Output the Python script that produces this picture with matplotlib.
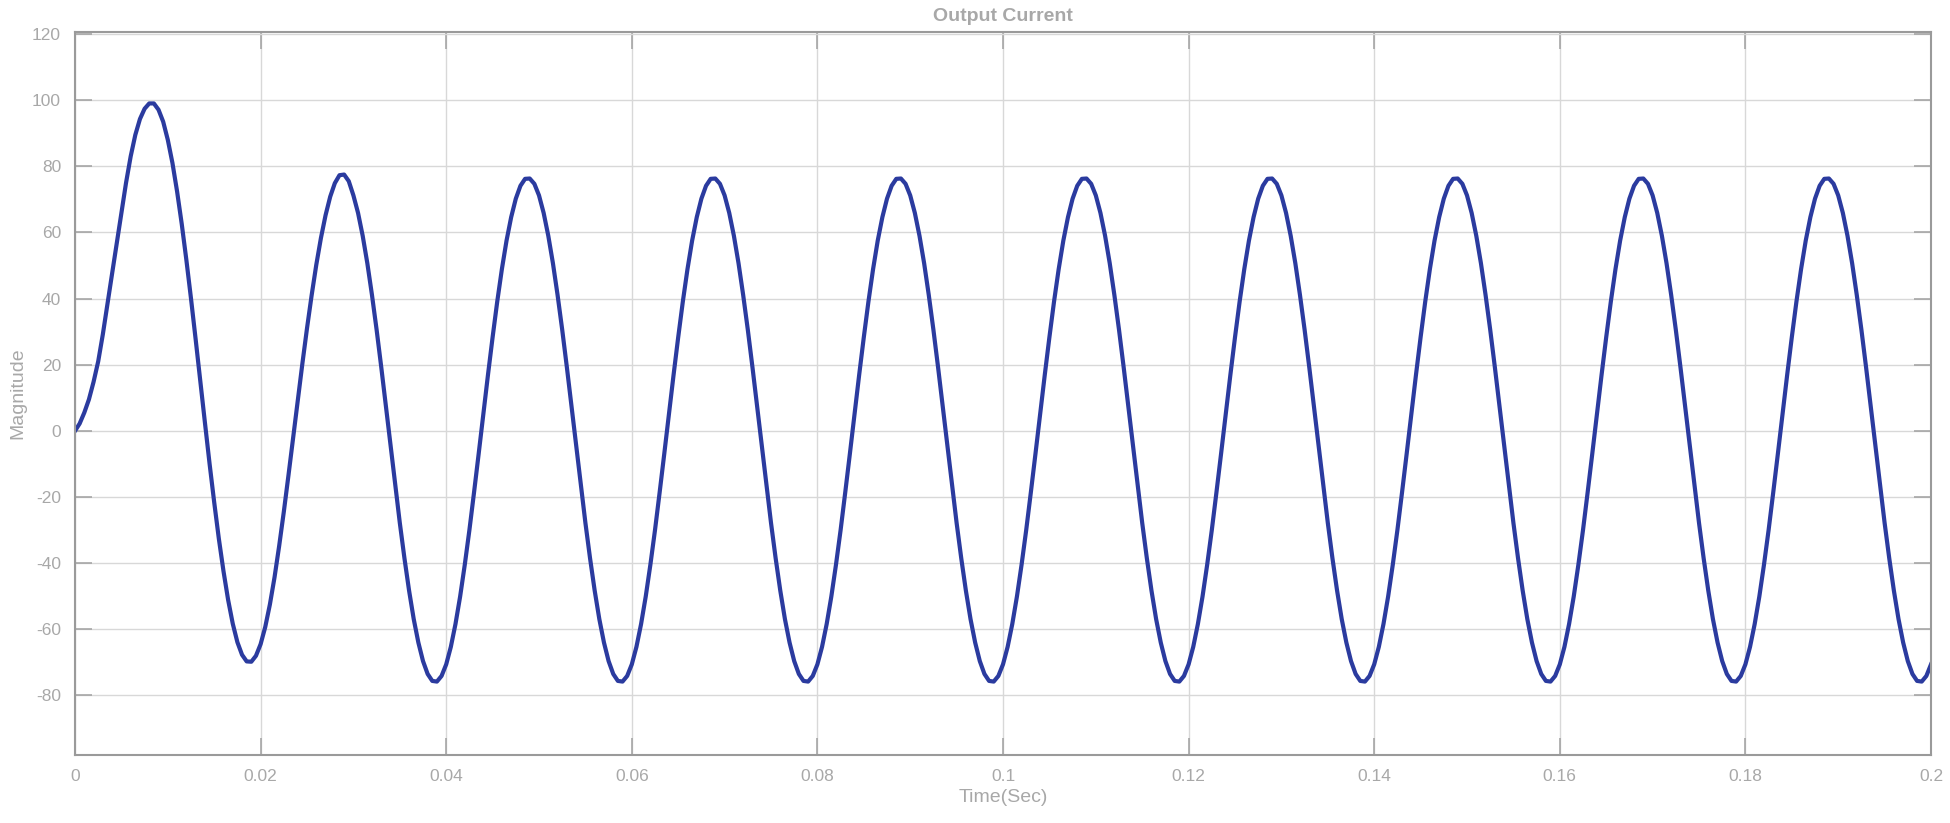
import numpy as np
import matplotlib
matplotlib.use("Agg")
import matplotlib.pyplot as plt
from matplotlib.ticker import FuncFormatter

plt.rcParams['font.family'] = ['Liberation Sans', 'DejaVu Sans']

# sample times (0.5 ms spacing, 0 .. 0.2 s)
time_s = np.linspace(0.0, 0.2, 401)

# output current values, one 20 ms cycle per line
current = [
    0.0, 2.2, 5.5, 9.5, 14.8, 21.0, 29.2, 38.3, 47.6, 56.8, 66.0, 75.0, 83.0, 89.5, 94.3, 97.4, 99.0, 99.0, 97.1, 93.5,
    88.0, 81.0, 72.4, 62.6, 51.7, 40.0, 27.7, 15.0, 2.5, -9.9, -21.6, -32.6, -42.4, -51.1, -58.3, -63.9, -67.7, -69.7, -69.8, -68.0,
    -64.5, -59.3, -52.5, -44.3, -34.8, -24.5, -13.5, -2.2, 9.2, 20.3, 31.0, 41.0, 50.2, 58.3, 65.2, 70.8, 74.9, 77.3, 77.5, 75.5,
    71.2, 65.9, 59.0, 50.7, 41.1, 30.6, 19.3, 7.5, -4.5, -16.3, -27.8, -38.5, -48.3, -56.9, -64.0, -69.6, -73.5, -75.6, -75.8, -74.1,
    -70.6, -65.3, -58.4, -50.1, -40.5, -30.0, -18.6, -6.9, 5.1, 16.9, 28.3, 39.1, 48.9, 57.5, 64.6, 70.2, 74.1, 76.2, 76.3, 74.7,
    71.2, 65.9, 59.0, 50.7, 41.1, 30.6, 19.3, 7.5, -4.5, -16.3, -27.8, -38.5, -48.3, -56.9, -64.0, -69.6, -73.5, -75.6, -75.8, -74.1,
    -70.6, -65.3, -58.4, -50.1, -40.5, -30.0, -18.6, -6.9, 5.1, 16.9, 28.3, 39.1, 48.9, 57.5, 64.6, 70.2, 74.1, 76.2, 76.3, 74.7,
    71.2, 65.9, 59.0, 50.7, 41.1, 30.6, 19.3, 7.5, -4.5, -16.3, -27.8, -38.5, -48.3, -56.9, -64.0, -69.6, -73.5, -75.6, -75.8, -74.1,
    -70.6, -65.3, -58.4, -50.1, -40.5, -30.0, -18.6, -6.9, 5.1, 16.9, 28.3, 39.1, 48.9, 57.5, 64.6, 70.2, 74.1, 76.2, 76.3, 74.7,
    71.2, 65.9, 59.0, 50.7, 41.1, 30.6, 19.3, 7.5, -4.5, -16.3, -27.8, -38.5, -48.3, -56.9, -64.0, -69.6, -73.5, -75.6, -75.8, -74.1,
    -70.6, -65.3, -58.4, -50.1, -40.5, -30.0, -18.6, -6.9, 5.1, 16.9, 28.3, 39.1, 48.9, 57.5, 64.6, 70.2, 74.1, 76.2, 76.3, 74.7,
    71.2, 65.9, 59.0, 50.7, 41.1, 30.6, 19.3, 7.5, -4.5, -16.3, -27.8, -38.5, -48.3, -56.9, -64.0, -69.6, -73.5, -75.6, -75.8, -74.1,
    -70.6, -65.3, -58.4, -50.1, -40.5, -30.0, -18.6, -6.9, 5.1, 16.9, 28.3, 39.1, 48.9, 57.5, 64.6, 70.2, 74.1, 76.2, 76.3, 74.7,
    71.2, 65.9, 59.0, 50.7, 41.1, 30.6, 19.3, 7.5, -4.5, -16.3, -27.8, -38.5, -48.3, -56.9, -64.0, -69.6, -73.5, -75.6, -75.8, -74.1,
    -70.6, -65.3, -58.4, -50.1, -40.5, -30.0, -18.6, -6.9, 5.1, 16.9, 28.3, 39.1, 48.9, 57.5, 64.6, 70.2, 74.1, 76.2, 76.3, 74.7,
    71.2, 65.9, 59.0, 50.7, 41.1, 30.6, 19.3, 7.5, -4.5, -16.3, -27.8, -38.5, -48.3, -56.9, -64.0, -69.6, -73.5, -75.6, -75.8, -74.1,
    -70.6, -65.3, -58.4, -50.1, -40.5, -30.0, -18.6, -6.9, 5.1, 16.9, 28.3, 39.1, 48.9, 57.5, 64.6, 70.2, 74.1, 76.2, 76.3, 74.7,
    71.2, 65.9, 59.0, 50.7, 41.1, 30.6, 19.3, 7.5, -4.5, -16.3, -27.8, -38.5, -48.3, -56.9, -64.0, -69.6, -73.5, -75.6, -75.8, -74.1,
    -70.6, -65.3, -58.4, -50.1, -40.5, -30.0, -18.6, -6.9, 5.1, 16.9, 28.3, 39.1, 48.9, 57.5, 64.6, 70.2, 74.1, 76.2, 76.3, 74.7,
    71.2, 65.9, 59.0, 50.7, 41.1, 30.6, 19.3, 7.5, -4.5, -16.3, -27.8, -38.5, -48.3, -56.9, -64.0, -69.6, -73.5, -75.6, -75.8, -74.1,
    -70.6,
]

x_ticks = [0, 0.02, 0.04, 0.06, 0.08, 0.1, 0.12, 0.14, 0.16, 0.18, 0.2]
y_ticks = [-80, -60, -40, -20, 0, 20, 40, 60, 80, 100, 120]

title_text = "Output Current"
x_label = "Time(Sec)"
y_label = "Magnitude"

label_color = "#a8a8a8"
grid_color = "#d8d8d8"
spine_color = "#9a9a9a"
line_color = "#2b3b9f"

fig = plt.figure(figsize=(19.5, 8.23), dpi=100)
ax = fig.add_axes([75 / 1950, 1 - 755 / 823, (1931 - 75) / 1950, (755 - 32) / 823])

ax.plot(time_s, current, color=line_color, linewidth=3.0, solid_joinstyle='round')

ax.set_xlim(0, 0.2)
ax.set_ylim(-98, 120.6)
ax.set_xticks(x_ticks)
ax.set_yticks(y_ticks)
ax.xaxis.set_major_formatter(FuncFormatter(lambda v, p: ('%g' % round(v, 4))))
ax.yaxis.set_major_formatter(FuncFormatter(lambda v, p: ('%g' % v)))

ax.grid(True, color=grid_color, linewidth=1.0)
ax.set_axisbelow(True)
for s in ax.spines.values():
    s.set_color(spine_color)
    s.set_linewidth(1.5)

ax.tick_params(axis='both', direction='in', length=12, width=1.1, color='#a0a0a0',
               labelcolor=label_color, labelsize=12.5, top=True, right=True, pad=10)

ax.set_title(title_text, color=label_color, fontsize=14, fontweight='bold', pad=8)
ax.set_xlabel(x_label, color=label_color, fontsize=14, labelpad=4)
ax.set_ylabel(y_label, color=label_color, fontsize=14, labelpad=4)

fig.savefig("out.png", dpi=100, facecolor='white')
